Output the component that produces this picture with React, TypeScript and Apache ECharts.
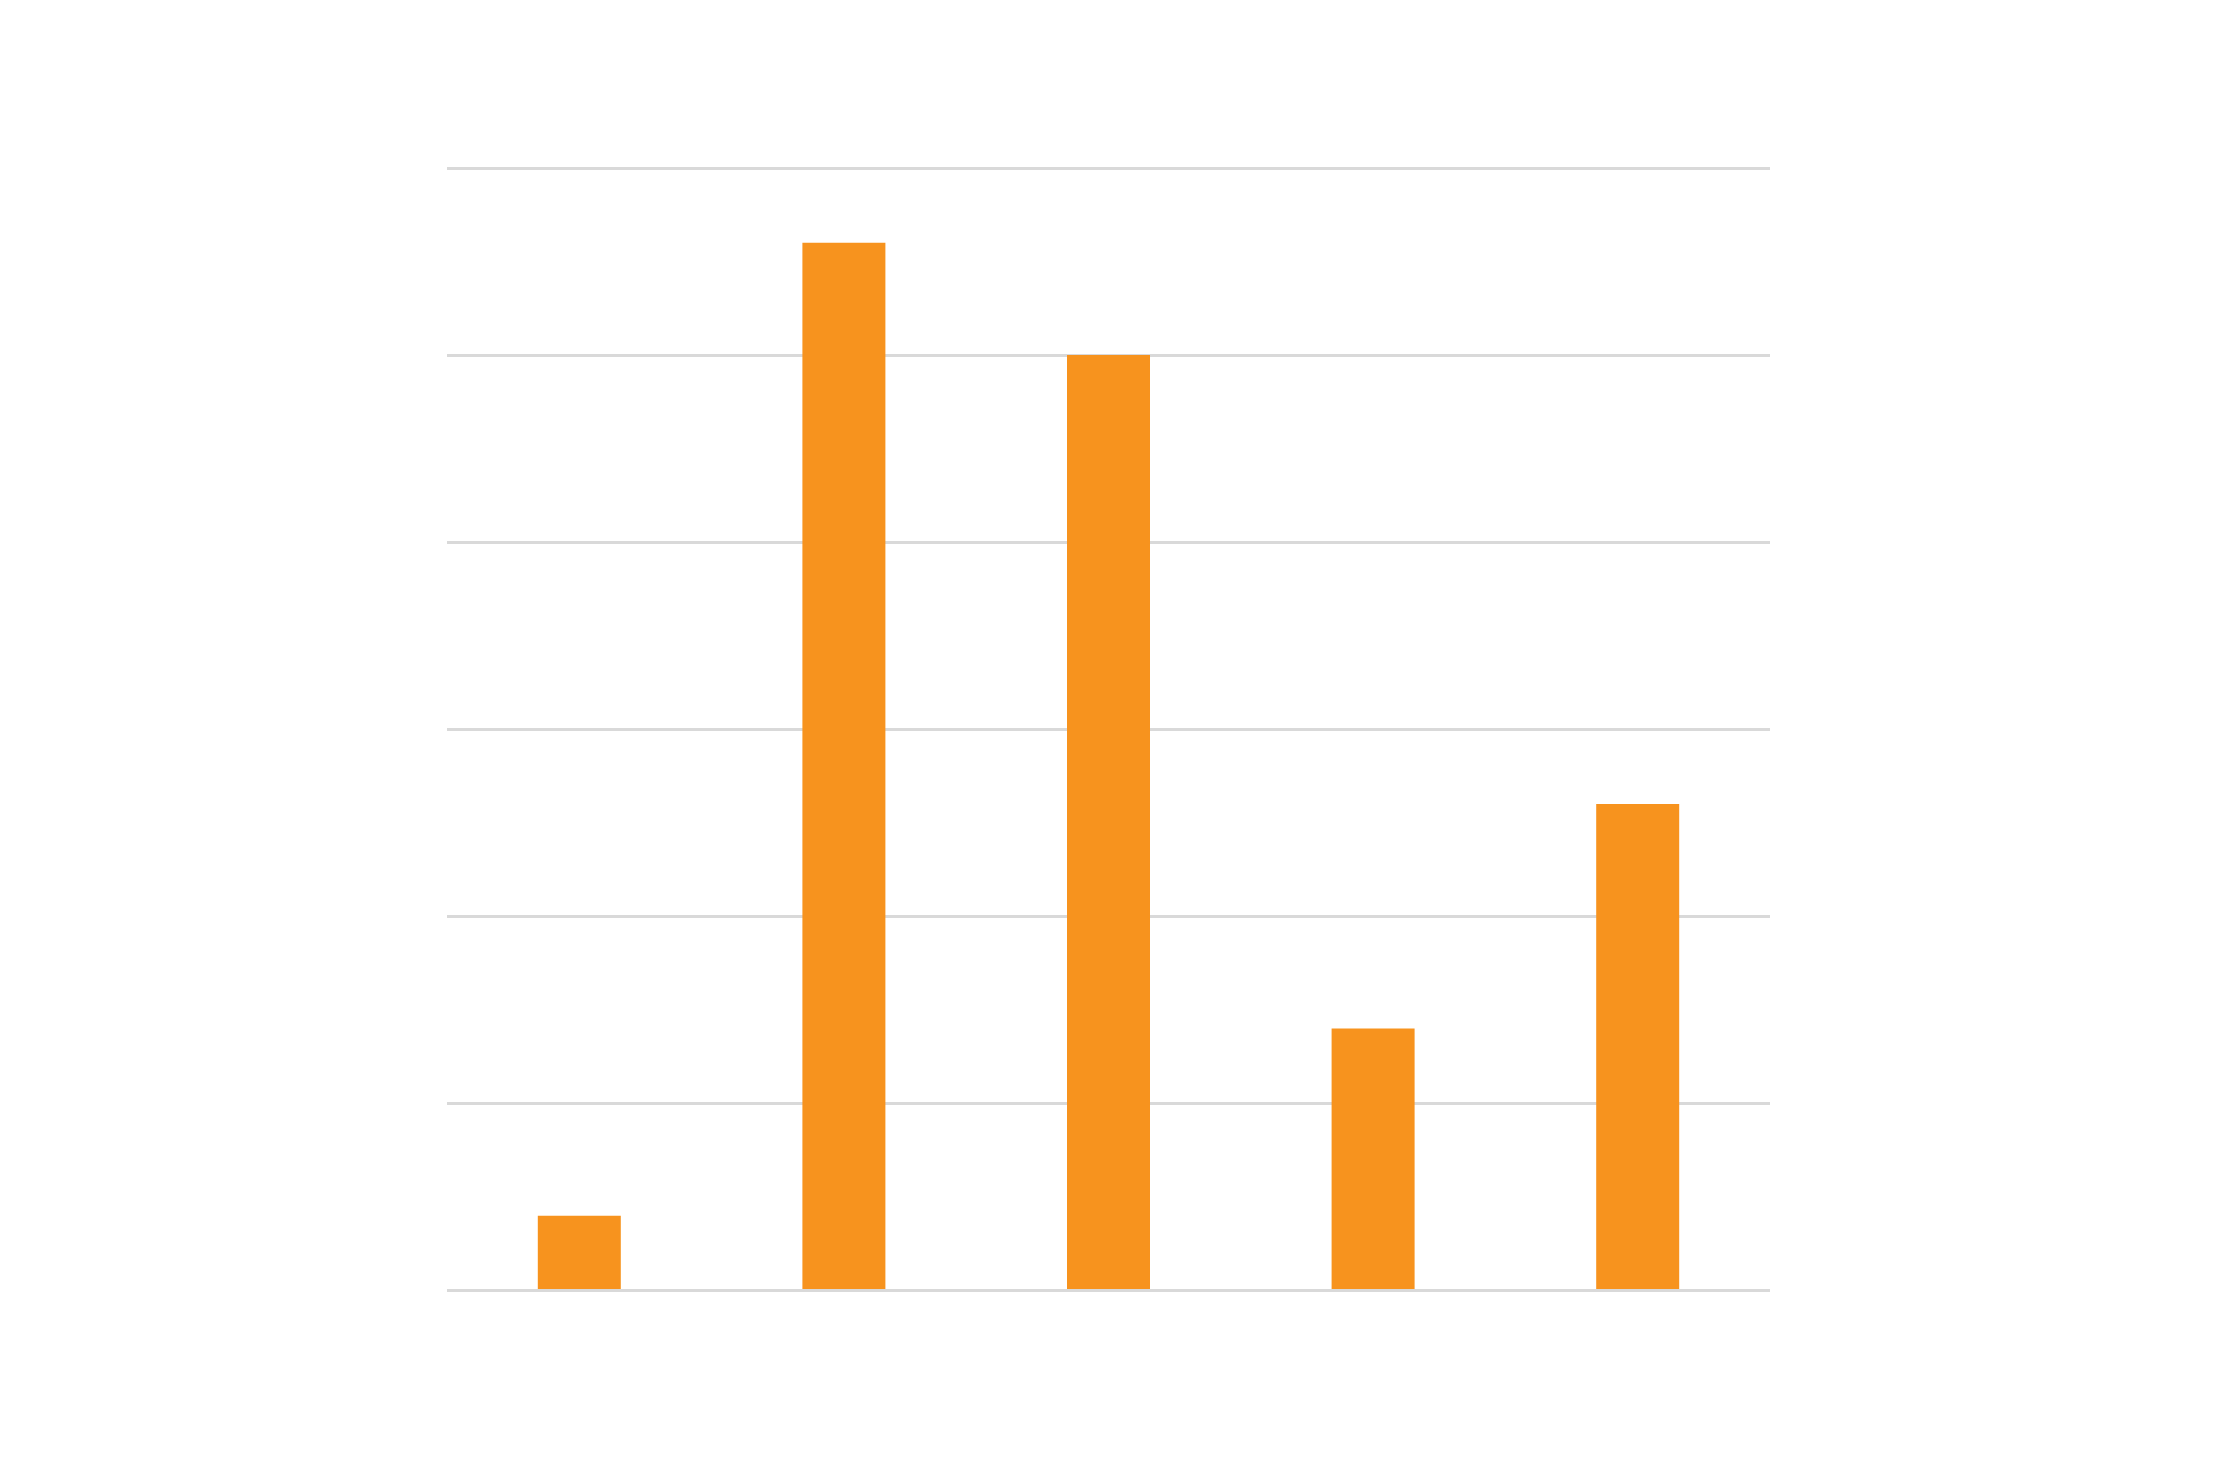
import React, { useEffect, useRef } from "react";
import * as echarts from "echarts";

const categories = ["1", "2", "3", "4", "5"];
const values = [0.4, 5.6, 5.0, 1.4, 2.6];
const yTicks = [0, 1, 2, 3, 4, 5, 6];

export default function App() {
  const ref = useRef<HTMLDivElement>(null);
  useEffect(() => {
    if (!ref.current) return;
    const chart = echarts.init(ref.current, undefined, { renderer: "svg" });
    chart.setOption({
      animation: false,
      backgroundColor: "#ffffff",
      grid: { left: 447, right: 448, top: 168, bottom: 172.5, containLabel: false },
      xAxis: {
        type: "category",
        data: categories,
        axisLine: { show: false },
        axisTick: { show: false },
        axisLabel: { show: false },
        splitLine: { show: false },
      },
      yAxis: {
        type: "value",
        min: yTicks[0],
        max: yTicks[yTicks.length - 1],
        interval: 1,
        axisLine: { show: false },
        axisTick: { show: false },
        axisLabel: { show: false },
        splitLine: { show: true, lineStyle: { color: "#d9d9d9", width: 3 } },
      },
      series: [
        {
          type: "bar",
          data: values,
          barWidth: 83,
          itemStyle: { color: "#f7931e" },
          markLine: {
            silent: true,
            symbol: ["none", "none"],
            label: { show: false },
            lineStyle: { color: "#d9d9d9", width: 3, type: "solid" },
            data: [{ yAxis: yTicks[0] }],
          },
        },
      ],
    });
    return () => chart.dispose();
  }, []);
  return (
    <div
      ref={ref}
      style={{ position: "absolute", left: 0, top: 0, width: 2218, height: 1463 }}
    />
  );
}
